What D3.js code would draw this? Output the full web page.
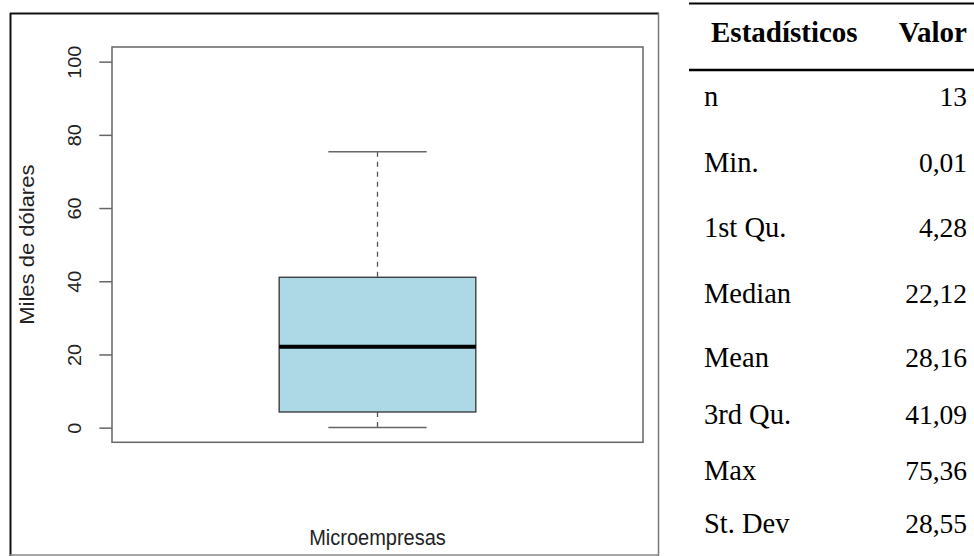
<!DOCTYPE html>
<html>
<head>
<meta charset="utf-8">
<script src="https://cdn.jsdelivr.net/npm/d3@7"></script>
<style>
  html, body { margin: 0; padding: 0; background: #fff; }
  svg { display: block; }
</style>
</head>
<body>
<svg id="chart" width="974" height="556"></svg>
<script>
// ---- data ----
const category = "Microempresas";
const yLabel = "Miles de dólares";
const yTicks = [0, 20, 40, 60, 80, 100];
const statLabels = ["n", "Min.", "1st Qu.", "Median", "Mean", "3rd Qu.", "Max", "St. Dev"];
const statValues = [13, 0.01, 4.28, 22.12, 28.16, 41.09, 75.36, 28.55];
const tableHeader = ["Estadísticos", "Valor"];

// box summary pulled from the table values
const stat = Object.fromEntries(statLabels.map((l, i) => [l, statValues[i]]));
const box = { min: stat["Min."], q1: stat["1st Qu."], med: stat["Median"], q3: stat["3rd Qu."], max: stat["Max"] };

// ---- layout ----
const svg = d3.select("#chart");
const plot = { left: 112, right: 643, top: 47, bottom: 442.3 };
const sans = "Liberation Sans, Arial, sans-serif";

const y = d3.scaleLinear().domain([-4, 104]).range([plot.bottom, plot.top]);
const x = d3.scaleLinear().domain([0.46, 1.54]).range([plot.left, plot.right]);

// outer frame
svg.append("line").attr("x1", 10).attr("x2", 659).attr("y1", 13.5).attr("y2", 13.5)
  .attr("stroke", "#111").attr("stroke-width", 2);
svg.append("line").attr("x1", 10.5).attr("x2", 10.5).attr("y1", 13).attr("y2", 556)
  .attr("stroke", "#111").attr("stroke-width", 2);
svg.append("line").attr("x1", 658.5).attr("x2", 658.5).attr("y1", 13).attr("y2", 556)
  .attr("stroke", "#777").attr("stroke-width", 1.5);
svg.append("line").attr("x1", 10).attr("x2", 659).attr("y1", 555).attr("y2", 555)
  .attr("stroke", "#888").attr("stroke-width", 1.5);

// y axis
const yAxis = d3.axisLeft(y).tickValues(yTicks).tickSize(12.7).tickPadding(0).tickFormat(d3.format("d"));
const ga = svg.append("g").attr("transform", `translate(${plot.left},0)`).call(yAxis);
ga.select(".domain").remove();
ga.selectAll(".tick line").attr("stroke", "#666").attr("stroke-width", 1.5);
ga.selectAll(".tick text")
  .attr("x", null).attr("dy", null)
  .attr("transform", "translate(-37.3,0) scale(1,1.1) rotate(-90)")
  .attr("text-anchor", "middle")
  .attr("dominant-baseline", "central")
  .attr("font-family", sans)
  .attr("font-size", 18)
  .attr("fill", "#222");

// plot box
svg.append("rect")
  .attr("x", plot.left).attr("y", plot.top)
  .attr("width", plot.right - plot.left).attr("height", plot.bottom - plot.top)
  .attr("fill", "none").attr("stroke", "#666").attr("stroke-width", 1.5);

// whiskers
const cx = x(1);
svg.append("line").attr("x1", cx).attr("x2", cx).attr("y1", y(box.max)).attr("y2", y(box.q3))
  .attr("stroke", "#555").attr("stroke-width", 1.3).attr("stroke-dasharray", "5,5");
svg.append("line").attr("x1", cx).attr("x2", cx).attr("y1", y(box.q1)).attr("y2", y(box.min))
  .attr("stroke", "#555").attr("stroke-width", 1.3).attr("stroke-dasharray", "5,5");
[box.max, box.min].forEach(v => {
  svg.append("line").attr("x1", x(0.9)).attr("x2", x(1.1)).attr("y1", y(v)).attr("y2", y(v))
    .attr("stroke", "#666").attr("stroke-width", 1.5);
});

// box
svg.append("rect")
  .attr("x", x(0.8)).attr("y", y(box.q3))
  .attr("width", x(1.2) - x(0.8)).attr("height", y(box.q1) - y(box.q3))
  .attr("fill", "#ADD8E6").attr("stroke", "#333").attr("stroke-width", 1.3);
svg.append("line").attr("x1", x(0.8)).attr("x2", x(1.2)).attr("y1", y(box.med)).attr("y2", y(box.med))
  .attr("stroke", "#000").attr("stroke-width", 4);

// axis labels
svg.append("text")
  .attr("transform", `translate(27,${(plot.top + plot.bottom) / 2}) scale(1,1.1) rotate(-90)`)
  .attr("text-anchor", "middle").attr("dominant-baseline", "central")
  .attr("font-family", sans).attr("font-size", 20).attr("fill", "#222")
  .text(yLabel);
svg.append("text")
  .attr("transform", `translate(${cx},544.5) scale(1,1.1)`)
  .attr("text-anchor", "middle")
  .attr("font-family", sans).attr("font-size", 20).attr("fill", "#222")
  .text(category);

// ---- table ----
const tbl = { left: 689, labelX: 704, headX: 711, valueX: 967, right: 974 };
const rowBaselines = [106, 171.7, 236.7, 302.7, 367.3, 424.3, 480, 532.7];
const fmt = v => Number.isInteger(v) ? String(v) : v.toFixed(2).replace(".", ",");
const serif = "Liberation Serif, 'Times New Roman', serif";

svg.append("line").attr("x1", tbl.left).attr("x2", tbl.right).attr("y1", 3.5).attr("y2", 3.5)
  .attr("stroke", "#000").attr("stroke-width", 2.2);
svg.append("line").attr("x1", tbl.left).attr("x2", tbl.right).attr("y1", 70).attr("y2", 70)
  .attr("stroke", "#000").attr("stroke-width", 2.5);

svg.append("text").attr("x", tbl.headX).attr("y", 41.7)
  .attr("font-family", serif).attr("font-weight", "bold").attr("font-size", 29).attr("fill", "#000")
  .text(tableHeader[0]);
svg.append("text").attr("x", tbl.valueX).attr("y", 41.7).attr("text-anchor", "end")
  .attr("font-family", serif).attr("font-weight", "bold").attr("font-size", 29).attr("fill", "#000")
  .text(tableHeader[1]);

const rows = svg.append("g").selectAll("g").data(statLabels).join("g");
rows.append("text").attr("x", tbl.labelX).attr("y", (d, i) => rowBaselines[i])
  .attr("font-family", serif).attr("font-size", 28.5).attr("fill", "#000")
  .text(d => d);
rows.append("text").attr("x", tbl.valueX).attr("y", (d, i) => rowBaselines[i]).attr("text-anchor", "end")
  .attr("font-family", serif).attr("font-size", 27.5).attr("fill", "#000")
  .text((d, i) => fmt(statValues[i]));
</script>
</body>
</html>
